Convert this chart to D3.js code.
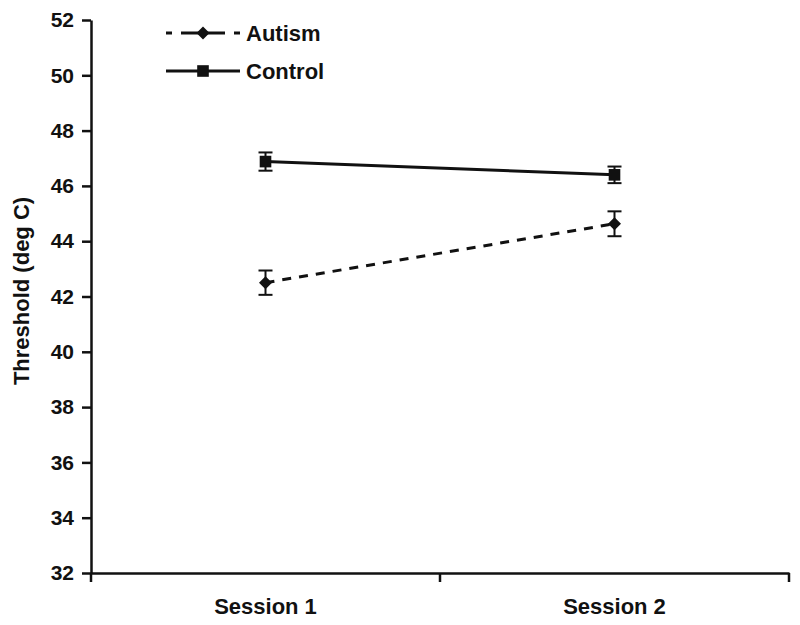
<!DOCTYPE html>
<meta charset="utf-8">
<script src="https://d3js.org/d3.v7.min.js"></script>
<style>
  body { margin: 0; background: #fff; }
  text { font-family: "Liberation Sans", Arial, Helvetica, sans-serif; font-weight: bold; fill: #111; }
</style>
<div id="my_dataviz"></div>
<script>

// data
var sessions = ["Session 1", "Session 2"];
var autismMean = [42.5, 44.63];
var autismErr = [0.44, 0.45];
var controlMean = [46.88, 46.4];
var controlErr = [0.33, 0.3];
var yTicks = [32, 34, 36, 38, 40, 42, 44, 46, 48, 50, 52];

var margin = {top: 20, right: 11, bottom: 52, left: 91},
    width = 800 - margin.left - margin.right,
    height = 625 - margin.top - margin.bottom;

var svg = d3.select("#my_dataviz")
  .append("svg")
    .attr("width", 800)
    .attr("height", 625)
  .append("g")
    .attr("transform", "translate(" + margin.left + "," + margin.top + ")");

var x = d3.scaleBand()
  .domain(sessions)
  .range([0, width]);

var y = d3.scaleLinear()
  .domain([32, 52])
  .range([height, 0]);

// Y axis
var yAxis = svg.append("g")
  .call(d3.axisLeft(y).tickValues(yTicks).tickSize(9).tickSizeOuter(0).tickPadding(8));
yAxis.selectAll("text").style("font-size", "21px").style("font-family", null);
yAxis.selectAll("line, path").attr("stroke", "#111").attr("stroke-width", 2.5);

// X axis: labels at band centres, tick marks at band edges
var xAxis = svg.append("g")
  .attr("transform", "translate(0," + height + ")")
  .call(d3.axisBottom(x).tickSize(0).tickSizeOuter(0).tickPadding(25));
xAxis.selectAll("text").style("font-size", "22px").style("font-family", null);
xAxis.select("path").attr("stroke", "#111").attr("stroke-width", 2.5);
xAxis.selectAll(".edge")
  .data([0, 1, 2])
  .enter().append("line")
    .attr("x1", function(i) { return i * x.step(); })
    .attr("x2", function(i) { return i * x.step(); })
    .attr("y1", 0)
    .attr("y2", 9)
    .attr("stroke", "#111")
    .attr("stroke-width", 2.5);

// Y title
svg.append("text")
  .attr("transform", "rotate(-90)")
  .attr("x", -(y(42.2)))
  .attr("y", -margin.left + 29)
  .attr("text-anchor", "middle")
  .style("font-size", "22px")
  .text("Threshold (deg C)");

var cx = function(d, i) { return x(sessions[i]) + x.bandwidth() / 2; };

// marker: square, or square turned 45deg for the diamond
function marker(sel, kind) {
  sel.append("path")
    .attr("d", d3.symbol().type(d3.symbolSquare).size(kind === "diamond" ? 85 : 135)())
    .attr("transform", kind === "diamond" ? "rotate(45)" : null)
    .attr("fill", "#111");
}

function drawSeries(mean, err, dashed, kind) {
  var pts = mean.map(function(m, i) { return {i: i, m: m, e: err[i]}; });

  svg.append("path")
    .datum(pts)
    .attr("fill", "none")
    .attr("stroke", "#111")
    .attr("stroke-width", 3)
    .attr("stroke-dasharray", dashed ? "9,8" : null)
    .attr("d", d3.line()
      .x(function(d) { return cx(d, d.i); })
      .y(function(d) { return y(d.m); }));

  var g = svg.append("g").selectAll("g")
    .data(pts)
    .enter().append("g");

  g.append("line")
    .attr("x1", function(d) { return cx(d, d.i); })
    .attr("x2", function(d) { return cx(d, d.i); })
    .attr("y1", function(d) { return y(d.m - d.e); })
    .attr("y2", function(d) { return y(d.m + d.e); })
    .attr("stroke", "#111").attr("stroke-width", 2);
  [-1, 1].forEach(function(s) {
    g.append("line")
      .attr("x1", function(d) { return cx(d, d.i) - 7; })
      .attr("x2", function(d) { return cx(d, d.i) + 7; })
      .attr("y1", function(d) { return y(d.m + s * d.e); })
      .attr("y2", function(d) { return y(d.m + s * d.e); })
      .attr("stroke", "#111").attr("stroke-width", 2);
  });

  g.append("g")
    .attr("transform", function(d) { return "translate(" + cx(d, d.i) + "," + y(d.m) + ")"; })
    .call(marker, kind);
}

drawSeries(autismMean, autismErr, true, "diamond");
drawSeries(controlMean, controlErr, false, "square");

// legend
var legend = [
  {name: "Autism", dashed: true, kind: "diamond", ly: 13},
  {name: "Control", dashed: false, kind: "square", ly: 51}
];
var lg = svg.append("g").selectAll("g")
  .data(legend)
  .enter().append("g")
    .attr("transform", function(d) { return "translate(" + 75 + "," + d.ly + ")"; });
lg.append("line")
  .attr("x1", 0).attr("x2", 74)
  .attr("stroke", "#111").attr("stroke-width", 3)
  .attr("stroke-dasharray", function(d) { return d.dashed ? "6,9,44,9,6" : null; });
lg.each(function(d) {
  d3.select(this).append("g")
    .attr("transform", "translate(37,0)")
    .call(marker, d.kind);
});
lg.append("text")
  .attr("x", 80)
  .attr("dy", "0.35em")
  .style("font-size", "22px")
  .text(function(d) { return d.name; });

</script>
